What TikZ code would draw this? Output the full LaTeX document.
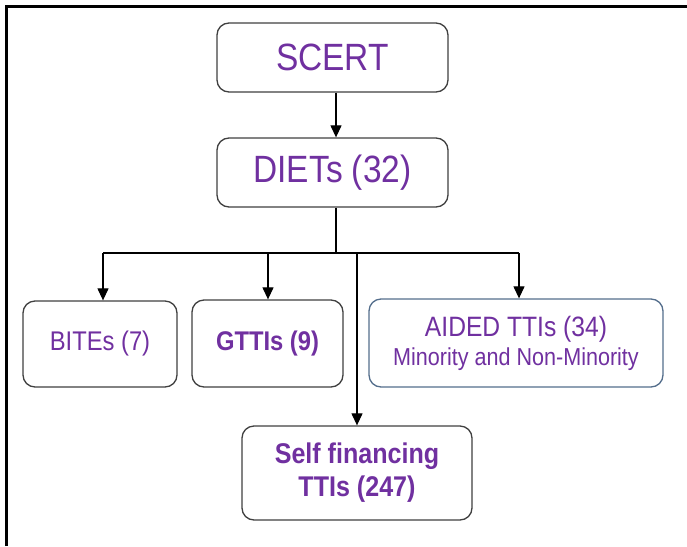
\documentclass[tikz,border=0pt]{standalone}
\usepackage{fontspec}
\setmainfont{Liberation Sans}[FakeStretch=0.88]
\usetikzlibrary{arrows.meta}
\definecolor{txtpurple}{RGB}{112,48,160}
\definecolor{boxgray}{RGB}{64,64,64}
\definecolor{boxblue}{RGB}{84,110,140}

\begin{document}
\begin{tikzpicture}[x=1pt,y=-1pt,>={Triangle[length=12pt,width=11pt]},
box/.style={draw=boxgray, line width=1.3pt, rounded corners=12pt, fill=white,
  text=txtpurple, align=center, inner sep=0pt},
link/.style={line width=1.2pt, black}]
\useasboundingbox (0,0) rectangle (687,546);
\draw [line width=3pt] (6.5,546) -- (6.5,6.5) -- (687,6.5);

\node [box, minimum width=231pt, minimum height=69pt,
  font=\fontsize{38}{40}\selectfont] (scert) at (332.5,57.5) {SCERT};
\node [box, minimum width=231pt, minimum height=69pt,
  font=\fontsize{38}{40}\selectfont] (diets) at (332.5,172.5) {DIETs (32)};

\node [box, minimum width=154pt, minimum height=86pt,
  font=\fontsize{27}{30}\selectfont] (bites) at (100,344) {BITEs (7)};
\node [box, minimum width=151pt, minimum height=87pt,
  font=\fontsize{27}{30}\selectfont\bfseries] (gttis) at (267.5,343.5) {GTTIs (9)};
\node [box, draw=boxblue, minimum width=294pt, minimum height=88pt,
  font=\fontsize{28}{30}\selectfont] (aided) at (516,343)
  {AIDED TTIs (34)\\[-1pt] \fontsize{24.5}{30}\selectfont Minority and Non-Minority};
\node [box, minimum width=230pt, minimum height=94pt,
  font=\fontsize{28.5}{33}\selectfont\bfseries] (self) at (357,473)
  {Self financing\\ TTIs (247)};

 % tree links
 \coordinate (fork) at (336,253);
 \draw [link,->] ([xshift=3.5pt]scert.south) -- ([xshift=3.5pt]diets.north);
 \draw [link] ([xshift=3.5pt]diets.south) -- (fork);
 \draw [link] (103,253) -- (fork -| aided.north) -- ++(3,0);
 \draw [link,->] (103,253) -- (103,0 |- bites.north);
 \draw [link,->] (268,253) -- (268,0 |- gttis.north);
 \draw [link,->] (519,253) -- (519,0 |- aided.north);
 \draw [link,->] (fork -| self.north) -- (self.north);
\end{tikzpicture}
\end{document}
